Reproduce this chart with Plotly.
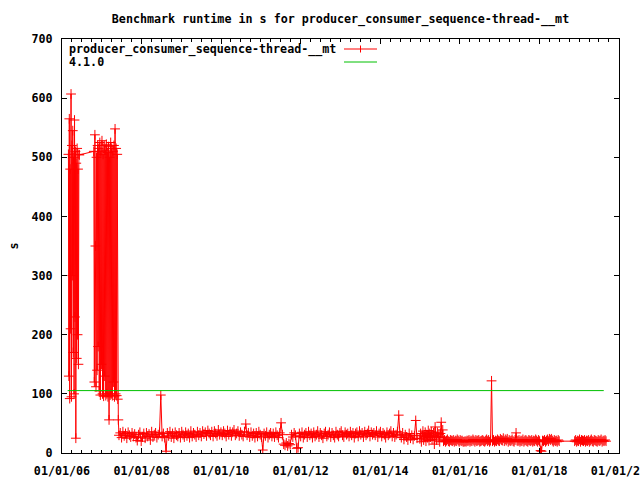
import pandas as pd
import plotly.graph_objects as go

# ---------------- data ----------------
# Red series: benchmark runtime in s. Each segment = start date, spacing (days), values.
seg_a_start, seg_a_step = "2006-03-01", 4
seg_a_values = [505, 130, 565, 92, 480, 210, 607, 95, 520, 300, 545, 170, 500,
                100, 563, 230, 510, 25, 490, 160, 515, 200, 480, 150, 505, 504]

seg_b_start, seg_b_step = "2006-10-20", 5
seg_b_values = [510, 120, 538, 350, 112, 500, 140, 520, 180, 515, 105, 525, 98,
                510, 150, 528, 100, 505, 96, 520, 130, 512, 97, 522, 100, 508,
                95, 518, 56, 500, 98, 525, 100, 515, 97, 510, 120, 520, 95, 548,
                100, 515, 97, 505, 91, 56]

seg_c_start, seg_c_step = "2007-06-08", 12
seg_c_values = [30, 34, 26, 36, 29, 33, 25, 35, 30, 27,
                34, 28, 32, 26, 21, 31, 35, 20, 27, 33,
                25, 34, 28, 32, 22, 36, 27, 31, 34, 26,
                31, 35, 98, 28, 33, 26, 3, 34, 29, 36,
                27, 33, 25, 35, 30, 28, 34, 26, 36, 31,
                27, 35, 29, 33, 26, 37, 28, 34, 31, 27,
                36, 30, 34, 28, 37, 32, 35, 29, 38, 33,
                30, 36, 28, 37, 33, 29, 39, 31, 35, 30,
                37, 33, 28, 38, 31, 36, 29, 35, 39, 30,
                33, 37, 29, 35, 31, 28, 36, 49, 30, 34,
                27, 35, 29, 33, 26, 34, 28, 36, 31, 27,
                5, 33, 29, 35, 26, 31, 34, 28, 33, 27,
                35, 30, 26, 34, 51, 31]

seg_d_start, seg_d_step = "2011-07-29", 12
seg_d_values = [15, 13, 17, 12, 16, 14, 31, 27, 34, 30,
                8, 9, 33, 28, 35, 26, 31, 34, 27, 36,
                30, 33, 26, 35, 28, 31, 37, 27, 34, 30,
                25, 33, 36, 28, 31, 35, 27, 34, 30, 26,
                36, 31, 28, 34, 37, 30, 27, 35, 31, 33,
                28, 36, 30, 34, 26, 33, 35, 28, 37, 31,
                34, 27, 36, 30, 33, 38, 28, 35, 31, 34,
                30, 37, 27, 33, 36, 28, 34, 31, 26, 35,
                30, 33, 37, 28, 34, 27, 31, 36, 64, 30,
                26, 34, 23, 31, 27, 22, 33, 25, 30, 23,
                29, 55, 25]

seg_e_start, seg_e_step = "2014-12-30", 7
seg_e_values = [24, 33, 19, 30, 37, 22, 28, 35, 20, 31,
                26, 38, 21, 33, 27, 36, 23, 30, 34, 15,
                44, 28, 22, 35, 26, 31, 19, 33, 52, 27,
                39]

seg_f_start, seg_f_step = "2015-08-04", 9
seg_f_values = [20, 22, 19, 21, 23, 20, 19, 22, 21, 20,
                22, 19, 21, 20, 23, 21, 19, 22, 20, 21,
                19, 19, 20, 19, 21, 20, 22, 19, 21, 20,
                23, 21, 19, 22, 20, 21, 22, 19, 20, 21,
                22, 20, 19, 21, 23, 20, 22, 19, 21, 122,
                20, 22, 19, 21, 20, 23, 21, 20, 24, 22,
                21, 25, 20, 23, 21, 24, 19, 22, 20, 21,
                23, 20, 19, 22, 34, 21, 20, 22, 19, 21,
                20, 23, 19, 21, 22, 20, 19, 22, 21, 20,
                22, 19, 21, 20, 23, 21, 19, 22, 20, 4,
                3, 21, 20, 22, 19, 21, 23, 20, 24, 22,
                24, 21, 19, 22, 20, 21, 19, 22, 20]

seg_g_start, seg_g_step = "2018-11-20", 9
seg_g_values = [20, 22, 19, 21, 20, 23, 19, 22, 21, 20,
                22, 19, 21, 20, 22, 19, 21, 23, 20, 19,
                22, 21, 20, 19, 22, 20, 21, 23, 19, 21,
                20, 22, 20]

# Green series: reference version 4.1.0
baseline_dates = ["2006-02-22", "2019-08-14"]
baseline_values = [105.5, 105.5]

title_text = "Benchmark runtime in s for producer_consumer_sequence-thread-__mt"
series_name = "producer_consumer_sequence-thread-__mt"
baseline_name = "4.1.0"

# ---------------- build ----------------
segments = [
    (seg_a_start, seg_a_step, seg_a_values),
    (seg_b_start, seg_b_step, seg_b_values),
    (seg_c_start, seg_c_step, seg_c_values),
    (seg_d_start, seg_d_step, seg_d_values),
    (seg_e_start, seg_e_step, seg_e_values),
    (seg_f_start, seg_f_step, seg_f_values),
    (seg_g_start, seg_g_step, seg_g_values),
]
red_x, red_y = [], []
for start, step, vals in segments:
    red_x.extend(pd.date_range(start, periods=len(vals), freq=f"{step}D"))
    red_y.extend(vals)

FONT = dict(family="DejaVu Sans Mono", size=11.7, color="black", weight="bold")
RED = "#ff0000"
GREEN = "#00c000"

fig = go.Figure()
fig.add_trace(go.Scatter(
    x=red_x, y=red_y, mode="lines+markers", name=series_name,
    line=dict(color=RED, width=1),
    marker=dict(symbol="cross-thin", size=7, line=dict(color=RED, width=1)),
    showlegend=False,
))
fig.add_trace(go.Scatter(
    x=pd.to_datetime(baseline_dates), y=baseline_values, mode="lines",
    name=baseline_name, line=dict(color=GREEN, width=1), showlegend=False,
))

# plot-area geometry in pixels (for manual gnuplot-style key)
L, R, T, B = 62, 619, 39, 453
def px(xp):
    return (xp - L) / (R - L)
def py(yp):
    return (B - yp) / (B - T)

key_rows = [(series_name, RED, 49, True), (baseline_name, GREEN, 62, False)]
annotations = []
shapes = []
for text, color, ypix, cross in key_rows:
    annotations.append(dict(
        x=px(67), y=py(ypix), xref="paper", yref="paper", text=text,
        showarrow=False, xanchor="left", yanchor="middle", font=FONT))
    shapes.append(dict(type="line", xref="paper", yref="paper",
                       x0=px(344), x1=px(377), y0=py(ypix), y1=py(ypix),
                       line=dict(color=color, width=1)))
    if cross:
        shapes.append(dict(type="line", xref="paper", yref="paper",
                           x0=px(360.5), x1=px(360.5), y0=py(ypix - 3.5), y1=py(ypix + 3.5),
                           line=dict(color=color, width=1)))

fig.update_layout(
    width=640, height=480,
    margin=dict(l=L, r=640 - R, t=T, b=480 - B, autoexpand=False),
    paper_bgcolor="white", plot_bgcolor="white",
    font=FONT,
    title=dict(text=title_text, x=0.5, xref="paper", xanchor="center",
               y=1 - 19 / 480, yref="container", yanchor="middle", font=FONT),
    annotations=annotations, shapes=shapes,
    showlegend=False,
)
fig.update_xaxes(
    type="date", range=["2006-01-01", "2020-01-01"],
    tick0="2006-01-01", dtick="M24", tickformat="%m/%d/%y",
    ticks="inside", ticklen=5, tickcolor="black", tickwidth=1,
    showline=True, linecolor="black", linewidth=1, mirror="allticks",
    showgrid=False, zeroline=False, tickfont=FONT,
    ticklabelstandoff=7, ticklabeloverflow="allow",
    minor=dict(dtick="M3", tick0="2006-01-01", ticks="inside", ticklen=3,
               tickcolor="black", showgrid=False),
)
fig.update_yaxes(
    range=[0, 700], dtick=100, tick0=0,
    ticks="inside", ticklen=5, tickcolor="black", tickwidth=1,
    showline=True, linecolor="black", linewidth=1, mirror="allticks",
    showgrid=False, zeroline=False, tickfont=FONT,
    ticklabelstandoff=6,
    title=dict(text="s", font=FONT, standoff=10),
)

fig.write_html("out.html", config={"displayModeBar": False},
               post_script="document.body.style.margin='0px';")
